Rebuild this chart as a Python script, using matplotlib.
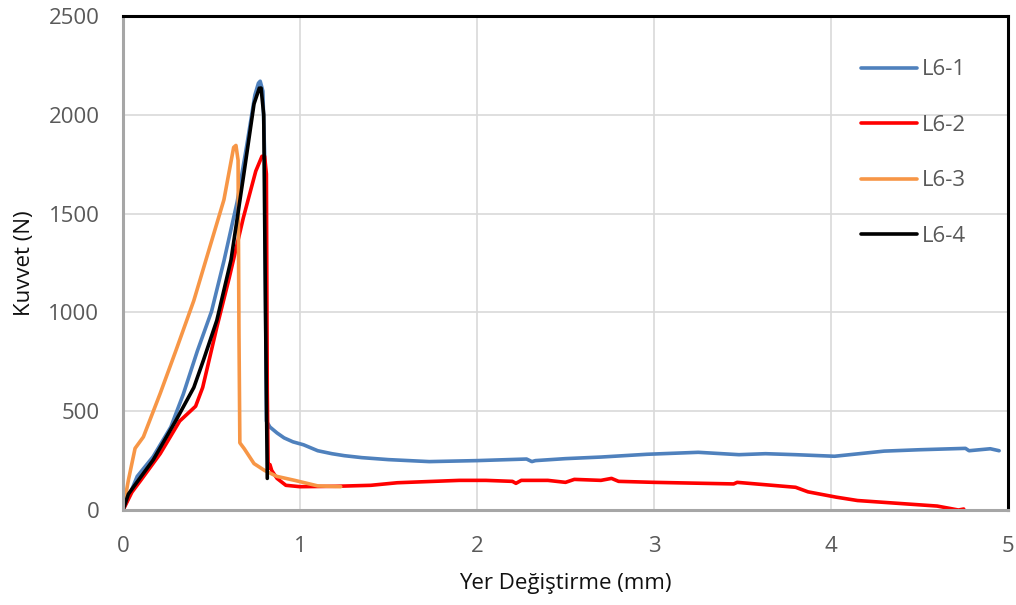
import matplotlib
matplotlib.use("Agg")
import matplotlib.pyplot as plt

# ---- data ----
l61_x = [0, 0.02, 0.08, 0.17, 0.27, 0.34, 0.42, 0.50, 0.57, 0.645, 0.70, 0.745, 0.765, 0.775, 0.79, 0.80,
         0.81, 0.83, 0.87, 0.91, 0.96, 1.02, 1.10, 1.18, 1.25, 1.35, 1.5, 1.73, 2.0, 2.28, 2.31, 2.33,
         2.5, 2.7, 2.96, 3.25, 3.48, 3.63, 3.8, 4.02, 4.3, 4.5, 4.76, 4.78, 4.9, 4.95]
l61_y = [0, 40, 170, 270, 420, 585, 805, 1005, 1260, 1560, 1850, 2100, 2160, 2170, 2120, 1800,
         450, 420, 390, 365, 345, 330, 300, 285, 275, 265, 255, 245, 250, 258, 245, 250,
         260, 268, 282, 292, 280, 285, 280, 272, 298, 305, 312, 300, 310, 300]

l62_x = [0, 0.05, 0.10, 0.21, 0.32, 0.41, 0.45, 0.53, 0.60, 0.68, 0.75, 0.785, 0.80, 0.81, 0.815,
         0.82, 0.83, 0.84, 0.87, 0.92, 1.0, 1.2, 1.4, 1.55, 1.9, 2.05, 2.2, 2.22, 2.25, 2.4, 2.5,
         2.55, 2.7, 2.76, 2.8, 3.0, 3.45, 3.47, 3.8, 3.87, 4.03, 4.15, 4.6, 4.72, 4.75]
l62_y = [0, 90, 150, 285, 450, 525, 620, 925, 1175, 1480, 1715, 1790, 1790, 1700, 600,
         210, 230, 200, 160, 125, 118, 120, 125, 138, 150, 150, 145, 135, 150, 150, 140,
         155, 150, 160, 145, 140, 132, 140, 115, 92, 65, 48, 20, 0, 5]

l63_x = [0, 0.03, 0.068, 0.115, 0.21, 0.30, 0.40, 0.49, 0.57, 0.625, 0.638, 0.65, 0.655, 0.66,
         0.685, 0.74, 0.80, 0.87, 0.97, 1.1, 1.23]
l63_y = [0, 150, 312, 370, 590, 810, 1060, 1330, 1570, 1835, 1845, 1770, 900, 340,
         310, 235, 200, 170, 150, 122, 118]

l64_x = [0, 0.03, 0.06, 0.17, 0.30, 0.40, 0.455, 0.53, 0.61, 0.68, 0.74, 0.77, 0.78, 0.795, 0.805, 0.815]
l64_y = [0, 80, 118, 253, 455, 620, 760, 960, 1265, 1685, 2055, 2135, 2135, 2000, 1000, 160]

labels = ["L6-1", "L6-2", "L6-3", "L6-4"]
colors = ["#4F81BD", "#FF0000", "#F79646", "#000000"]
x_ticks = [0, 1, 2, 3, 4, 5]
y_ticks = [0, 500, 1000, 1500, 2000, 2500]

plt.rcParams['font.family'] = ['Open Sans', 'DejaVu Sans']

fig = plt.figure(figsize=(10.16, 6.05), dpi=100)
ax = fig.add_axes([0.1211, 0.157, 0.8710, 0.8166])

series = [(l61_x, l61_y), (l62_x, l62_y), (l63_x, l63_y), (l64_x, l64_y)]
for (xs, ys), lab, c in zip(series, labels, colors):
    ax.plot(xs, ys, color=c, lw=2.6, label=lab, solid_joinstyle='round', solid_capstyle='round')

ax.set_xlim(0, 5)
ax.set_ylim(0, 2500)
ax.set_xticks(x_ticks)
ax.set_yticks(y_ticks)
ax.set_xticklabels([str(v) for v in x_ticks])
ax.set_yticklabels([str(v) for v in y_ticks])
ax.grid(True, color="#D9D9D9", lw=1.2)
ax.set_axisbelow(True)
ax.tick_params(axis='both', length=0, labelsize=16, labelcolor="#595959")
ax.tick_params(axis='y', pad=17)
ax.tick_params(axis='x', pad=19)

for s in ['top', 'right']:
    ax.spines[s].set_color('black')
    ax.spines[s].set_linewidth(2.2)
for s in ['left', 'bottom']:
    ax.spines[s].set_color('#A6A6A6')
    ax.spines[s].set_linewidth(2.2)

ax.set_xlabel("Yer Değiştirme (mm)", fontsize=16, color="#111111", labelpad=11)
ax.set_ylabel("Kuvvet (N)", fontsize=16, color="#111111", labelpad=10)

leg = ax.legend(loc='upper left', bbox_to_anchor=(0.834, 0.912), frameon=False,
                fontsize=16, handlelength=2.5, handletextpad=0.25, labelspacing=1.55,
                borderpad=0, borderaxespad=0)
for t in leg.get_texts():
    t.set_color("#595959")

fig.savefig("out.png", dpi=100)
